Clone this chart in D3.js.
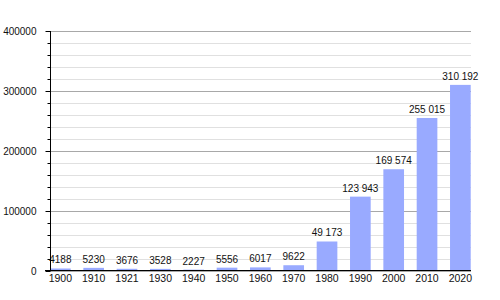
<!DOCTYPE html>
<html>
<head>
<meta charset="utf-8">
<script src="https://cdn.jsdelivr.net/npm/d3@7"></script>
<style>
  html, body { margin: 0; padding: 0; background: #fff; }
  svg text { font-family: "Liberation Sans", Arial, sans-serif; font-size: 10px; fill: #111; }
  svg text.xl { font-size: 10.5px; }
</style>
</head>
<body>
<svg id="chart" width="500" height="300"></svg>
<script>
const years = ["1900","1910","1921","1930","1940","1950","1960","1970","1980","1990","2000","2010","2020"];
const population = [4188, 5230, 3676, 3528, 2227, 5556, 6017, 9622, 49173, 123943, 169574, 255015, 310192];
const yTicks = [0, 100000, 200000, 300000, 400000];
const yMinorTicks = d3.range(0, 400001, 20000);

const svg = d3.select("#chart");
const pLeft = 50, pRight = 471, pTop = 31, pBottom = 271;

const x = d3.scaleBand().domain(years).range([50, 470.7]).paddingInner(0.38).paddingOuter(0);
const y = d3.scaleLinear().domain([0, 400000]).range([pBottom, pTop]);

// gridlines
svg.append("g").selectAll("line").data(yMinorTicks).join("line")
  .attr("x1", pLeft).attr("x2", pRight)
  .attr("y1", d => Math.round(y(d)) + 0.5).attr("y2", d => Math.round(y(d)) + 0.5)
  .attr("stroke", d => d % 100000 === 0 ? "#a8a8a8" : "#e0e0e0")
  .attr("stroke-width", 1);

// bars
svg.append("g").selectAll("rect").data(years).join("rect")
  .attr("x", d => x(d)).attr("width", x.bandwidth())
  .attr("y", (d, i) => y(population[i]))
  .attr("height", (d, i) => pBottom - y(population[i]))
  .attr("fill", "#99aaff");

// value labels
const fmt = v => v >= 10000 ? d3.format(",")(v).replace(/,/g, " ") : String(v);
svg.append("g").selectAll("text").data(years).join("text")
  .attr("x", d => x(d) + x.bandwidth() / 2)
  .attr("y", (d, i) => y(population[i]) - 5)
  .attr("text-anchor", "middle")
  .text((d, i) => fmt(population[i]));

// y axis
const yAxis = svg.append("g").attr("transform", `translate(${pLeft + 0.5},0)`);
yAxis.append("line").attr("x1", 0).attr("x2", 0).attr("y1", pTop).attr("y2", pBottom).attr("stroke", "#000");
yAxis.selectAll("line.minor").data(yMinorTicks).join("line").attr("class", "minor")
  .attr("x1", d => d % 100000 === 0 ? -5 : -3).attr("x2", 0)
  .attr("y1", d => Math.round(y(d)) + 0.5).attr("y2", d => Math.round(y(d)) + 0.5)
  .attr("stroke", "#000");
yAxis.selectAll("text").data(yTicks).join("text")
  .attr("x", -14).attr("y", d => y(d)).attr("dy", "0.35em")
  .attr("text-anchor", "end")
  .text(d => String(d));

// x axis baseline
svg.append("line").attr("x1", 45).attr("x2", pRight).attr("y1", pBottom - 0.5).attr("y2", pBottom - 0.5)
  .attr("stroke", "#000");

// x labels
svg.append("g").selectAll("text").data(years).join("text")
  .attr("class", "xl")
  .attr("x", d => x(d) + x.bandwidth() / 2)
  .attr("y", 282)
  .attr("text-anchor", "middle")
  .text(d => d);
</script>
</body>
</html>
